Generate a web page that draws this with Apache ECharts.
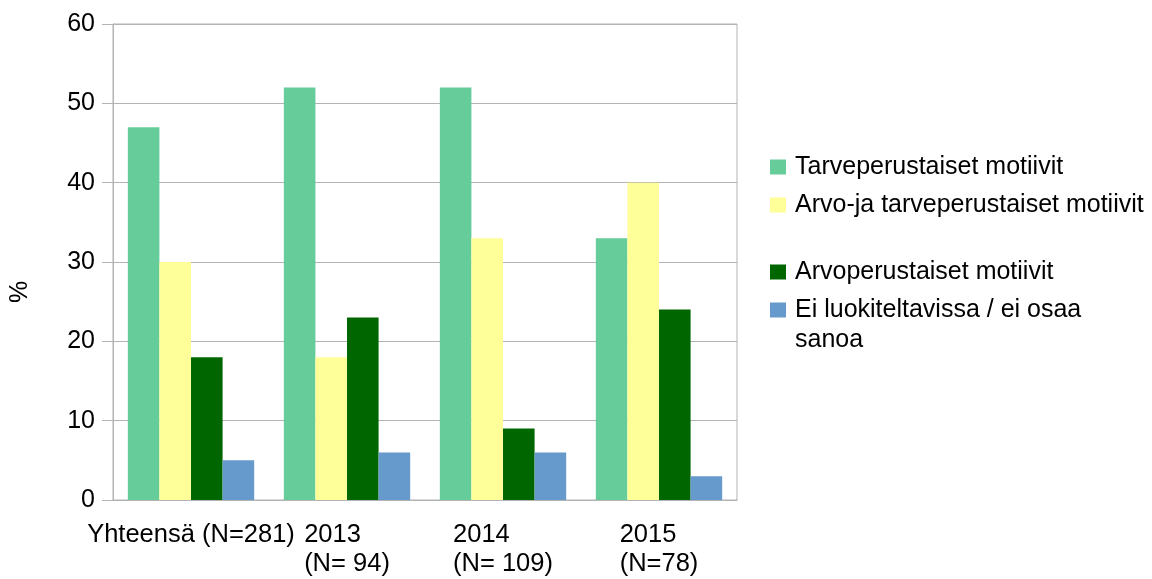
<!DOCTYPE html>
<html>
<head>
<meta charset="utf-8">
<script src="https://cdn.jsdelivr.net/npm/echarts@6/dist/echarts.min.js"></script>
<style>
  html, body { margin: 0; padding: 0; background: #fff; }
  #chart { width: 1152px; height: 579px; }
</style>
</head>
<body>
<div id="chart"></div>
<script>
(function () {
    const categories = ['Yhteensä (N=281)', '2013\n(N= 94)', '2014\n(N= 109)', '2015\n(N=78)'];
    const seriesNames = [
        'Tarveperustaiset motiivit',
        'Arvo-ja tarveperustaiset motiivit',
        'Arvoperustaiset motiivit',
        'Ei luokiteltavissa / ei osaa sanoa'
    ];
    const tarve = [47, 52, 52, 33];
    const arvoJaTarve = [30, 18, 33, 40];
    const arvo = [18, 23, 9, 24];
    const eiLuok = [5, 6, 6, 3];
    const yTicks = [0, 10, 20, 30, 40, 50, 60];

    const colors = ['#66cc99', '#ffff99', '#006600', '#6699cc'];
    const font = '"Liberation Sans", Arial, sans-serif';
    const values = [tarve, arvoJaTarve, arvo, eiLuok];

    // legend rows sit at uneven heights, so one legend per item
    const legendTops = [152, 190, 257, 265];
    const legends = seriesNames.map(function (name, i) {
        const last = i === 3;
        return {
            orient: 'vertical',
            left: 770,
            top: legendTops[i],
            padding: 0,
            itemWidth: 16,
            itemHeight: 15,
            icon: 'rect',
            data: [name],
            // blank first line keeps the icon level with the first text line
            formatter: last ? function () { return ' \nEi luokiteltavissa / ei osaa\nsanoa'; } : null,
            textStyle: {
                fontFamily: font,
                fontSize: 25,
                color: '#000',
                lineHeight: 30,
                padding: [0, 0, 0, 4]
            }
        };
    });

    const option = {
        animation: false,
        color: colors,
        grid: {
            left: 112,
            right: 415,
            top: 24,
            bottom: 79,
            show: true,
            borderColor: '#b3b3b3',
            borderWidth: 1
        },
        legend: legends,
        xAxis: {
            type: 'category',
            data: categories,
            axisLine: { lineStyle: { color: '#b3b3b3' } },
            axisTick: { length: 11, lineStyle: { color: '#b3b3b3' } },
            axisLabel: {
                interval: 0,
                margin: 20,
                formatter: function (v) {
                    return v.split('\n').map(function (s) { return '{l|' + s + '}'; }).join('\n');
                },
                rich: {
                    l: { fontFamily: font, fontSize: 25.5, lineHeight: 29, color: '#000', align: 'left' }
                }
            }
        },
        yAxis: {
            type: 'value',
            min: yTicks[0],
            max: yTicks[yTicks.length - 1],
            interval: 10,
            name: '%',
            nameLocation: 'middle',
            nameGap: 80,
            nameTextStyle: {
                fontFamily: font,
                fontSize: 25,
                color: '#000',
                padding: [0, 60, 0, 0]
            },
            axisLine: { show: true, lineStyle: { color: '#b3b3b3' } },
            axisTick: { show: true, length: 11, lineStyle: { color: '#b3b3b3' } },
            axisLabel: { margin: 18, fontFamily: font, fontSize: 25, color: '#000' },
            splitLine: { lineStyle: { color: '#b3b3b3' } }
        },
        series: seriesNames.map(function (name, i) {
            return {
                name: name,
                type: 'bar',
                data: values[i],
                barGap: '0%',
                barCategoryGap: '19%'
            };
        })
    };

    const myChart = echarts.init(document.getElementById('chart'));
    myChart.setOption(option);
}());
</script>
</body>
</html>
